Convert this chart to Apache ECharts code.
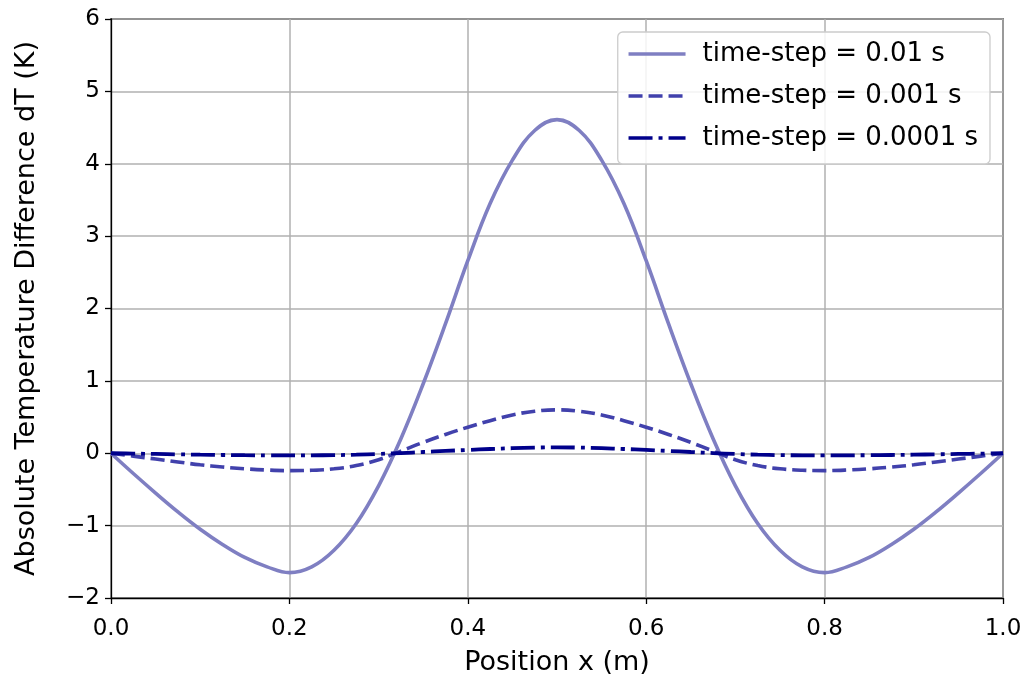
<!DOCTYPE html>
<html>
<head>
<meta charset="utf-8">
<script src="https://cdn.jsdelivr.net/npm/echarts@6/dist/echarts.min.js"></script>
<style>
  html, body { margin: 0; padding: 0; background: #ffffff; }
  #chart { width: 1029px; height: 681px; }
</style>
</head>
<body>
<div id="chart"></div>
<script>
// Grid positions along the rod (m)
const positions = [
  0.000, 0.025, 0.050, 0.075, 0.100, 0.125, 0.150, 0.175, 0.200, 0.225,
  0.250, 0.275, 0.300, 0.325, 0.350, 0.375, 0.400, 0.425, 0.450, 0.475,
  0.500, 0.525, 0.550, 0.575, 0.600, 0.625, 0.650, 0.675, 0.700, 0.725,
  0.750, 0.775, 0.800, 0.825, 0.850, 0.875, 0.900, 0.925, 0.950, 0.975,
  1.000
];

// Absolute temperature difference dT (K) for each time-step
const dtStep001 = [
  0.00, -0.28, -0.55, -0.81, -1.05, -1.26, -1.44, -1.57, -1.65, -1.57,
  -1.34, -0.97, -0.45, 0.20, 0.96, 1.79, 2.66, 3.45, 4.05, 4.46,
  4.61, 4.46, 4.05, 3.45, 2.66, 1.79, 0.96, 0.20, -0.45, -0.97,
  -1.34, -1.57, -1.65, -1.57, -1.44, -1.26, -1.05, -0.81, -0.55, -0.28,
  0.00
];
const dtStep0001 = [
  0.000, -0.040, -0.080, -0.120, -0.160, -0.190, -0.215, -0.232, -0.240, -0.235,
  -0.215, -0.170, -0.090, 0.030, 0.150, 0.260, 0.360, 0.450, 0.530, 0.580,
  0.600, 0.580, 0.530, 0.450, 0.360, 0.260, 0.150, 0.030, -0.090, -0.170,
  -0.215, -0.235, -0.240, -0.232, -0.215, -0.190, -0.160, -0.120, -0.080, -0.040,
  0.000
];
const dtStep00001 = [
  0.000, -0.005, -0.010, -0.015, -0.020, -0.024, -0.027, -0.029, -0.030, -0.029,
  -0.026, -0.020, -0.010, 0.003, 0.017, 0.032, 0.046, 0.059, 0.070, 0.078,
  0.082, 0.078, 0.070, 0.059, 0.046, 0.032, 0.017, 0.003, -0.010, -0.020,
  -0.026, -0.029, -0.030, -0.029, -0.027, -0.024, -0.020, -0.015, -0.010, -0.005,
  0.000
];

const seriesNames = ['time-step = 0.01 s', 'time-step = 0.001 s', 'time-step = 0.0001 s'];

const pairs = vals => positions.map((x, i) => [x, vals[i]]);
const FONT = 'DejaVu Sans';

const chart = echarts.init(document.getElementById('chart'), null, { renderer: 'canvas' });

chart.setOption({
  animation: false,
  backgroundColor: '#ffffff',
  grid: {
    left: 111, right: 26, top: 19, bottom: 83,
    show: true, borderColor: '#000000', borderWidth: 1.3, backgroundColor: 'transparent'
  },
  xAxis: {
    type: 'value', min: 0, max: 1, interval: 0.2,
    name: 'Position x (m)', nameLocation: 'middle', nameGap: 51,
    nameTextStyle: { fontFamily: FONT, fontSize: 27, color: '#000' },
    axisLine: { show: true, onZero: false, lineStyle: { color: '#000', width: 1.3 } },
    axisTick: { show: true, inside: false, length: 6, lineStyle: { color: '#000', width: 1.3 } },
    axisLabel: {
      fontFamily: FONT, fontSize: 23, color: '#000', margin: 20,
      formatter: v => v.toFixed(1)
    },
    splitLine: { show: true, lineStyle: { color: '#b0b0b0', width: 1.5 } }
  },
  yAxis: {
    type: 'value', min: -2, max: 6, interval: 1,
    name: 'Absolute Temperature Difference dT (K)', nameLocation: 'middle', nameGap: 71,
    nameRotate: 90,
    nameTextStyle: { fontFamily: FONT, fontSize: 27, color: '#000' },
    axisLine: { show: true, onZero: false, lineStyle: { color: '#000', width: 1.3 } },
    axisTick: { show: true, inside: false, length: 6, lineStyle: { color: '#000', width: 1.3 } },
    axisLabel: {
      fontFamily: FONT, fontSize: 23, color: '#000', margin: 11,
      formatter: v => (v < 0 ? '\u2212' + Math.abs(v) : String(v))
    },
    splitLine: { show: true, lineStyle: { color: '#b0b0b0', width: 1.5 } }
  },
  legend: {
    show: true,
    orient: 'vertical',
    right: 39, top: 32,
    padding: [9, 12, 13, 9],
    itemWidth: 57, itemHeight: 16, itemGap: 16,
    backgroundColor: 'rgba(255,255,255,0.85)',
    borderColor: '#cccccc', borderWidth: 1.3, borderRadius: 5,
    itemStyle: { opacity: 0 },
    lineStyle: { width: 3.6 },
    textStyle: { fontFamily: FONT, fontSize: 26, color: '#000', padding: [0, 0, 0, 12] },
    data: seriesNames.map(n => ({ name: n }))
  },
  series: [
    {
      name: seriesNames[0], type: 'line', data: pairs(dtStep001),
      smooth: 0.4, symbol: 'none', showSymbol: false,
      color: '#7f7fc2',
      lineStyle: { color: '#7f7fc2', width: 3.6, type: 'solid' },
      z: 3
    },
    {
      name: seriesNames[1], type: 'line', data: pairs(dtStep0001),
      smooth: 0.4, symbol: 'none', showSymbol: false,
      color: '#4141ac',
      lineStyle: { color: '#4141ac', width: 3.6, type: [14, 6] },
      z: 4
    },
    {
      name: seriesNames[2], type: 'line', data: pairs(dtStep00001),
      smooth: 0.4, symbol: 'none', showSymbol: false,
      color: '#00008b',
      lineStyle: { color: '#00008b', width: 3.8, type: [24, 6, 4, 6] },
      z: 5
    }
  ]
});
</script>
</body>
</html>
